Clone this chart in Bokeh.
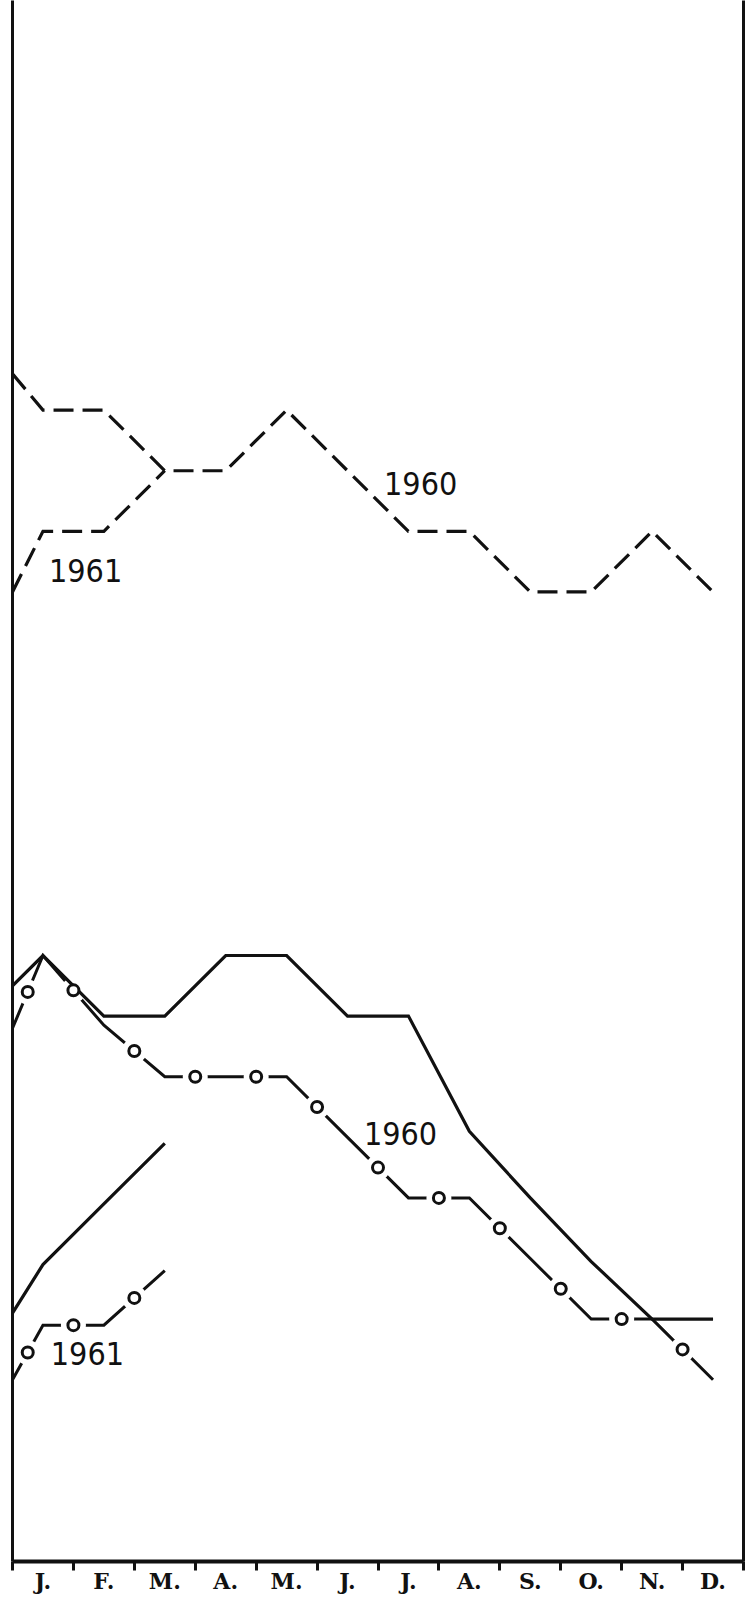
import numpy as np
from bokeh.plotting import figure
from bokeh.models import Range1d, LinearAxis, FixedTicker
from bokeh.core.properties import value
from bokeh.embed import file_html
from bokeh.resources import INLINE

# ---------------- data (grid units) ----------------
months = ["J.", "F.", "M.", "A.", "M.", "J.", "J.", "A.", "S.", "O.", "N.", "D."]
month_pos = list(range(1, 13))          # month centres
edge_pos = 0.5                          # left border = previous December

# upper pair (dashed)
dashed_1960_start = 19.6
dashed_1960 = [19, 19, 18, 18, 19, 18, 17, 17, 16, 16, 17, 16]
dashed_1961_start = 16
dashed_1961 = [17, 17, 18]

# lower pair (solid)
solid_1960_start = 9.5
solid_1960 = [10, 9, 9, 10, 10, 9, 9, 7.1, 6, 4.95, 4, 4]
solid_1961_start = 4.1
solid_1961 = [4.9, 5.9, 6.9]

# lower pair (dash and circle)
circle_1960_start = 8.8
circle_1960 = [10, 8.85, 8, 8, 8, 7, 6, 6, 5, 4, 4, 3]
circle_1961_start = 3
circle_1961 = [3.9, 3.9, 4.8]

series_labels = ["1960", "1961", "1960", "1961"]
label_x = [7.2, 1.7, 6.87, 1.73]
label_y = [17.79, 16.35, 7.06, 3.43]

# ---------------- figure ----------------
p = figure(width=753, height=1600,
           x_range=Range1d(0.5, 12.5), y_range=Range1d(0, 25.76),
           output_backend="svg", toolbar_location=None,
           x_axis_location=None, y_axis_location=None,
           min_border_left=12, min_border_right=10,
           min_border_top=0, min_border_bottom=39)
p.outline_line_color = None
p.background_fill_color = "white"
p.border_fill_color = "white"
p.xgrid.visible = False
p.ygrid.visible = False

INK = "#111111"


def xs_for(vals):
    return [edge_pos] + month_pos[:len(vals)]


def ys_for(start, vals):
    return [start] + list(vals)


# dashed series
for start, vals in [(dashed_1960_start, dashed_1960), (dashed_1961_start, dashed_1961)]:
    p.line(xs_for(vals), ys_for(start, vals), line_color=INK, line_width=3.2,
           line_dash="20 9", line_join="miter")

# dash-circle series: line, white gaps, circles
circ = []
for start, vals in [(circle_1960_start, circle_1960), (circle_1961_start, circle_1961)]:
    xs = xs_for(vals)
    ys = ys_for(start, vals)
    p.line(xs, ys, line_color=INK, line_width=3, line_join="miter")
    ox = [(edge_pos + month_pos[0]) / 2] + [m + 0.5 for m in month_pos[:len(vals) - 1]]
    oy = list(np.interp(ox, xs, ys))
    circ.append((ox, oy))
for ox, oy in circ:
    p.scatter(ox, oy, size=25, marker="circle", fill_color="white", line_color=None)

# solid series
for start, vals in [(solid_1960_start, solid_1960), (solid_1961_start, solid_1961)]:
    p.line(xs_for(vals), ys_for(start, vals), line_color=INK, line_width=3.2,
           line_join="miter")

for ox, oy in circ:
    p.scatter(ox, oy, size=11, marker="circle", fill_color="white",
              line_color=INK, line_width=3)

# series labels
p.text(x=label_x, y=label_y, text=series_labels, text_align="center",
       text_baseline="alphabetic", text_color=INK,
       text_font=value("DejaVu Sans Condensed, Liberation Sans"),
       text_font_size="32px")

# ---------------- axes ----------------
xaxis = LinearAxis(ticker=FixedTicker(ticks=month_pos,
                                      minor_ticks=[m - 0.5 for m in month_pos] + [12.5]),
                   major_label_overrides={m: lab for m, lab in zip(month_pos, months)})
xaxis.axis_line_width = 4
xaxis.axis_line_color = INK
xaxis.major_tick_out = 0
xaxis.major_tick_in = 0
xaxis.minor_tick_out = 9
xaxis.minor_tick_in = 0
xaxis.minor_tick_line_width = 3
xaxis.minor_tick_line_color = INK
xaxis.major_label_text_font = "DejaVu Serif"
xaxis.major_label_text_font_style = "bold"
xaxis.major_label_text_font_size = "22px"
xaxis.major_label_text_color = INK
xaxis.major_label_standoff = -3
p.add_layout(xaxis, "below")

for side in ["left", "right"]:
    ax = LinearAxis(ticker=FixedTicker(ticks=[]))
    ax.axis_line_width = 3
    ax.axis_line_color = INK
    ax.major_tick_out = 0
    ax.major_tick_in = 0
    ax.minor_tick_out = 0
    ax.minor_tick_in = 0
    ax.major_label_standoff = 0
    ax.major_label_text_font_size = "0px"
    p.add_layout(ax, side)

open("out.html", "w").write(file_html(p, INLINE))
